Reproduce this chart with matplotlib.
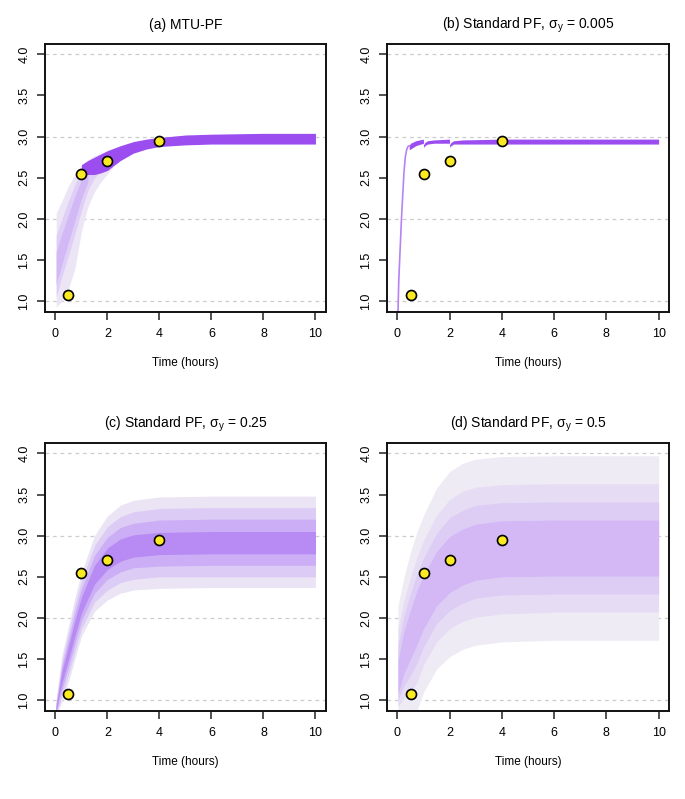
import matplotlib
matplotlib.use("Agg")
import matplotlib.pyplot as plt

plt.rcParams['font.family'] = ['Liberation Sans', 'DejaVu Sans']
plt.rcParams['mathtext.fontset'] = 'custom'
plt.rcParams['mathtext.rm'] = 'Liberation Sans'
plt.rcParams['mathtext.it'] = 'Liberation Sans:italic'
plt.rcParams['mathtext.default'] = 'regular'

# observations (same in every panel)
obs_t = [0.5, 1, 2, 4]
obs_y = [1.08, 2.55, 2.70, 2.95]

titles = [
    "(a) MTU-PF",
    r"(b) Standard PF, $\sigma_y$ = 0.005",
    r"(c) Standard PF, $\sigma_y$ = 0.25",
    r"(d) Standard PF, $\sigma_y$ = 0.5",
]

x_ticks = [0, 2, 4, 6, 8, 10]
y_ticks = [1.0, 1.5, 2.0, 2.5, 3.0, 3.5, 4.0]

# (a) MTU-PF: wide light fan before the first resample, then a tight band
a_early_t = [0.03, 0.25, 0.5, 0.75, 1.0, 1.25, 1.5, 1.75, 2.0, 2.2]
a_early_lo1 = [0.93, 1.00, 1.15, 1.40, 1.85, 2.15, 2.33, 2.45, 2.55, 2.62]
a_early_hi1 = [2.07, 2.22, 2.40, 2.54, 2.65, 2.72, 2.77, 2.80, 2.82, 2.83]
a_early_lo2 = [1.05, 1.30, 1.55, 1.82, 2.10, 2.35, 2.50, 2.58, 2.62, 2.64]
a_early_hi2 = [1.80, 2.00, 2.22, 2.42, 2.58, 2.66, 2.70, 2.74, 2.77, 2.79]
a_early_lo3 = [1.20, 1.45, 1.72, 1.98, 2.25, 2.45]
a_early_hi3 = [1.60, 1.82, 2.05, 2.28, 2.48, 2.60]
a_band_t = [1.0, 1.25, 1.5, 1.75, 2.0, 2.5, 3.0, 3.5, 4.0, 5.0, 6.0, 8.0, 10.0]
a_band_lo = [2.55, 2.54, 2.54, 2.56, 2.59, 2.71, 2.80, 2.85, 2.88, 2.90, 2.91, 2.91, 2.91]
a_band_hi = [2.66, 2.71, 2.75, 2.79, 2.83, 2.89, 2.94, 2.97, 2.99, 3.02, 3.03, 3.04, 3.04]

# (b) sigma_y = 0.005: fast rise then a thin band with notches at resampling
b_rise_t = [0.02, 0.05, 0.10, 0.15, 0.20, 0.25, 0.30, 0.35, 0.40, 0.45]
b_rise_y = [0.87, 1.25, 1.62, 1.98, 2.28, 2.57, 2.75, 2.84, 2.88, 2.89]
b_band_t = [0.45, 0.50, 0.70, 0.99, 1.00, 1.05, 1.15, 1.40, 1.99, 2.00, 2.05, 2.15, 2.50, 4.00, 10.0]
b_band_lo = [2.84, 2.85, 2.89, 2.92, 2.87, 2.89, 2.91, 2.92, 2.92, 2.87, 2.89, 2.91, 2.91, 2.91, 2.91]
b_band_hi = [2.89, 2.92, 2.95, 2.97, 2.90, 2.93, 2.95, 2.96, 2.97, 2.90, 2.93, 2.95, 2.96, 2.97, 2.97]

# (c) and (d): nested envelopes, outermost first
cd_t = [0.02, 0.25, 0.5, 0.75, 1.0, 1.5, 2.0, 2.5, 3.0, 4.0, 6.0, 10.0]

c_lo = [
    [0.80, 0.98, 1.22, 1.50, 1.78, 2.08, 2.22, 2.30, 2.34, 2.36, 2.37, 2.37],
    [0.82, 1.05, 1.31, 1.59, 1.87, 2.19, 2.34, 2.43, 2.47, 2.50, 2.50, 2.50],
    [0.84, 1.13, 1.40, 1.69, 1.97, 2.30, 2.47, 2.56, 2.61, 2.63, 2.64, 2.64],
    [0.86, 1.21, 1.49, 1.78, 2.06, 2.41, 2.59, 2.69, 2.74, 2.77, 2.78, 2.78],
]
c_hi = [
    [1.00, 1.55, 1.90, 2.25, 2.55, 3.00, 3.24, 3.37, 3.43, 3.47, 3.48, 3.48],
    [0.97, 1.48, 1.82, 2.16, 2.45, 2.88, 3.11, 3.23, 3.29, 3.33, 3.34, 3.34],
    [0.94, 1.42, 1.74, 2.07, 2.35, 2.76, 2.98, 3.10, 3.15, 3.19, 3.20, 3.20],
    [0.91, 1.35, 1.66, 1.97, 2.25, 2.64, 2.85, 2.96, 3.01, 3.04, 3.05, 3.05],
]
d_lo = [
    [0.80, 0.80, 0.80, 0.88, 1.10, 1.38, 1.53, 1.62, 1.67, 1.71, 1.73, 1.73],
    [0.92, 1.03, 1.10, 1.22, 1.43, 1.71, 1.87, 1.96, 2.01, 2.05, 2.07, 2.07],
    [1.00, 1.18, 1.30, 1.45, 1.65, 1.93, 2.09, 2.18, 2.24, 2.28, 2.29, 2.29],
    [1.08, 1.33, 1.50, 1.68, 1.87, 2.15, 2.31, 2.40, 2.46, 2.50, 2.51, 2.51],
]
d_hi = [
    [2.15, 2.50, 2.80, 3.05, 3.25, 3.58, 3.78, 3.88, 3.93, 3.96, 3.97, 3.97],
    [1.87, 2.22, 2.50, 2.74, 2.94, 3.25, 3.44, 3.54, 3.59, 3.62, 3.63, 3.63],
    [1.68, 2.03, 2.30, 2.54, 2.73, 3.03, 3.22, 3.31, 3.37, 3.40, 3.41, 3.41],
    [1.49, 1.84, 2.10, 2.33, 2.52, 2.81, 2.99, 3.08, 3.14, 3.18, 3.19, 3.19],
]

a_colors = ['#ece5f6', '#dfcff6', '#d2b9f5']
c_colors = ['#ebe4f4', '#dccbf5', '#cbaef5', '#b88af3']
d_colors = ['#eeebf4', '#e6ddf5', '#ddcdf5', '#d3b8f5']
dark_purple = '#9b4df0'


def style_axes(ax, title):
    ax.set_xlim(-0.4, 10.4)
    ax.set_ylim(0.87, 4.125)
    for y in [1, 2, 3, 4]:
        ax.axhline(y, color='#cccccc', linestyle=(0, (3, 3)), linewidth=0.9, zorder=0)
    ax.set_xticks(x_ticks)
    ax.set_yticks(y_ticks)
    ax.set_yticklabels([f"{v:.1f}" for v in y_ticks], rotation=90, va='center')
    ax.tick_params(axis='both', labelsize=9, length=5.5, width=1.1, color='#222222')
    ax.tick_params(axis='x', pad=6)
    ax.tick_params(axis='y', pad=5)
    for s in ax.spines.values():
        s.set_linewidth(1.4)
        s.set_color('#111111')
    ax.set_title(title, fontsize=10, pad=11)
    ax.set_xlabel("Time (hours)", fontsize=8.5, labelpad=12)


def draw_obs(ax):
    ax.plot(obs_t, obs_y, 'o', markersize=7.2, markerfacecolor='#fbea22',
            markeredgecolor='black', markeredgewidth=1.2, zorder=5)


fig = plt.figure(figsize=(6.85, 7.99), dpi=100)
positions = [
    [0.0657, 0.6095, 0.410, 0.3354],
    [0.565, 0.6095, 0.4117, 0.3354],
    [0.0657, 0.1101, 0.410, 0.3354],
    [0.565, 0.1101, 0.4117, 0.3354],
]
axes = [fig.add_axes(p) for p in positions]

# (a)
ax = axes[0]
ax.fill_between(a_early_t, a_early_lo1, a_early_hi1, color=a_colors[0], linewidth=0, zorder=1)
ax.fill_between(a_early_t, a_early_lo2, a_early_hi2, color=a_colors[1], linewidth=0, zorder=1)
ax.fill_between(a_early_t[:6], a_early_lo3, a_early_hi3, color=a_colors[2], linewidth=0, zorder=1)
ax.fill_between(a_band_t, a_band_lo, a_band_hi, color=dark_purple, linewidth=0, zorder=2)
draw_obs(ax)
style_axes(ax, titles[0])

# (b)
ax = axes[1]
ax.plot(b_rise_t, b_rise_y, color='#b584f2', linewidth=1.2, zorder=2)
ax.fill_between(b_band_t, b_band_lo, b_band_hi, color=dark_purple, linewidth=0, zorder=2)
draw_obs(ax)
style_axes(ax, titles[1])

# (c)
ax = axes[2]
for lo, hi, col in zip(c_lo, c_hi, c_colors):
    ax.fill_between(cd_t, lo, hi, color=col, linewidth=0, zorder=1)
draw_obs(ax)
style_axes(ax, titles[2])

# (d)
ax = axes[3]
for lo, hi, col in zip(d_lo, d_hi, d_colors):
    ax.fill_between(cd_t, lo, hi, color=col, linewidth=0, zorder=1)
draw_obs(ax)
style_axes(ax, titles[3])

plt.savefig('out.png', dpi=100)
